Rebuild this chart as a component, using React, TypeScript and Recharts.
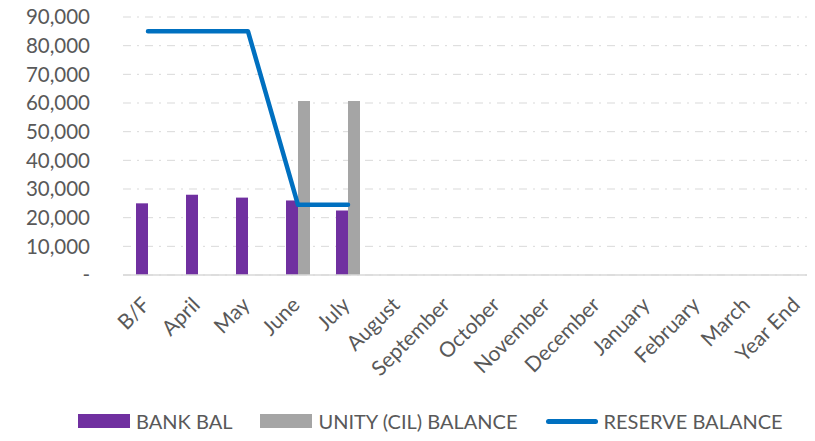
import React from 'react';
import { ComposedChart, Bar, Line, XAxis, YAxis, CartesianGrid, Legend } from 'recharts';

const categories = ['B/F', 'April', 'May', 'June', 'July', 'August', 'September', 'October', 'November', 'December', 'January', 'February', 'March', 'Year End'];
const bankBal = [25000, 28000, 27000, 26000, 22500, null, null, null, null, null, null, null, null, null];
const unityBal = [0, 0, 0, 60700, 60700, null, null, null, null, null, null, null, null, null];
const reserveBal = [85000, 85000, 85000, 24500, 24500, null, null, null, null, null, null, null, null, null];
const yTicks = [0, 10000, 20000, 30000, 40000, 50000, 60000, 70000, 80000, 90000];

const data = categories.map((name, i) => ({
  name,
  bank: bankBal[i],
  unity: unityBal[i],
  reserve: reserveBal[i],
}));

const FONT = 'Lato, "Liberation Sans", sans-serif';
const TEXT = '#595959';

const fmt = (v: number) => (v === 0 ? '-' : v.toLocaleString('en-US'));

// rotated category labels, ending at the category centre
const XTick = (props: any) => {
  const { x, y, payload } = props;
  return (
    <g transform={`translate(${x - 2},${y + 18})`}>
      <text transform="rotate(-45)" textAnchor="end" dy="0.35em" fill={TEXT} fontSize={21} fontFamily={FONT}>
        {payload.value}
      </text>
    </g>
  );
};

const LegendBox = () => (
  <div style={{ height: 24, display: 'flex', alignItems: 'center', fontFamily: FONT, fontSize: 20, lineHeight: '24px', color: TEXT, paddingLeft: 78 }}>
    <span style={{ display: 'inline-block', width: 52, height: 14, background: '#7030A0', marginRight: 6 }} />
    <span style={{ marginRight: 28 }}>BANK BAL</span>
    <span style={{ display: 'inline-block', width: 52, height: 14, background: '#A5A5A5', marginRight: 6 }} />
    <span style={{ marginRight: 28 }}>UNITY (CIL) BALANCE</span>
    <span style={{ display: 'inline-block', width: 52, height: 5, borderRadius: 3, background: '#0070C0', marginRight: 6 }} />
    <span>RESERVE BALANCE</span>
  </div>
);

export default function App() {
  return (
    <div style={{ margin: -8, width: 815, height: 441, overflow: 'hidden', background: '#fff' }}>
      <ComposedChart width={830} height={441} data={data} barGap={0} margin={{ top: 17, right: 7, bottom: 0, left: 0 }}>
        <CartesianGrid vertical={false} stroke="#d9d9d9" strokeDasharray="8 6 2 6" />
        <XAxis
          dataKey="name"
          interval={0}
          tick={<XTick />}
          tickLine={false}
          axisLine={{ stroke: '#d9d9d9', strokeWidth: 1.5 }}
          height={136}
        />
        <YAxis
          domain={[0, 90000]}
          ticks={yTicks}
          interval={0}
          tickFormatter={fmt}
          tickLine={false}
          axisLine={false}
          width={123}
          tick={{ fill: TEXT, fontSize: 20.5, fontFamily: FONT }}
          tickMargin={27}
        />
        <Legend
          verticalAlign="bottom"
          height={30}
          content={<LegendBox />}
          wrapperStyle={{ top: 409, bottom: 'auto', left: 0, width: 815 }}
        />
        <Bar dataKey="bank" name="BANK BAL" fill="#7030A0" barSize={12} isAnimationActive={false} />
        <Bar dataKey="unity" name="UNITY (CIL) BALANCE" fill="#A5A5A5" barSize={12} isAnimationActive={false} />
        <Line dataKey="reserve" name="RESERVE BALANCE" stroke="#0070C0" strokeWidth={4.5} strokeLinecap="round" strokeLinejoin="round" dot={false} activeDot={false} isAnimationActive={false} type="linear" />
      </ComposedChart>
    </div>
  );
}
